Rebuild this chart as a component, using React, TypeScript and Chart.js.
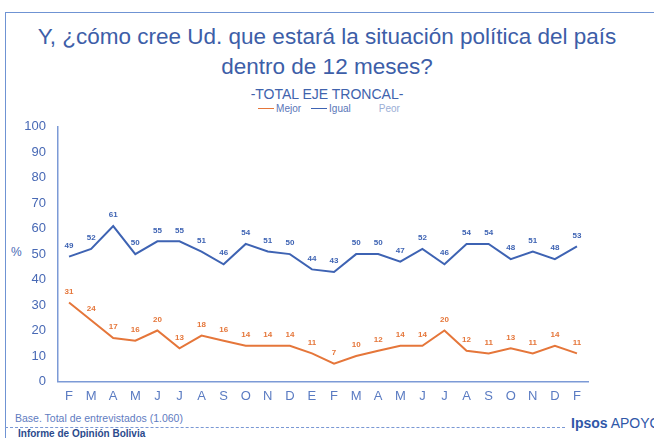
import React, { useEffect, useRef } from "react";
import { Chart, registerables } from "chart.js";

Chart.register(...registerables);

const months = ["F","M","A","M","J","J","A","S","O","N","D","E","F","M","A","M","J","J","A","S","O","N","D","F"];
const mejor = [31,24,17,16,20,13,18,16,14,14,14,11,7,10,12,14,14,20,12,11,13,11,14,11];
const igual = [49,52,61,50,55,55,51,46,54,51,50,44,43,50,50,47,52,46,54,54,48,51,48,53];
const peor: number[] = [];
const yTicks = [0,10,20,30,40,50,60,70,80,90,100];

const BLUE = "#3e63b3";
const ORANGE = "#e5763a";
const TEXTBLUE = "#4869b5";
const FONT = "'Liberation Sans', Arial, sans-serif";

const labelPlugin = {
  id: "valueLabels",
  afterDatasetsDraw(chart: any) {
    const ctx = chart.ctx;
    ctx.save();
    ctx.font = `bold 8px ${FONT}`;
    ctx.textAlign = "center";
    ctx.textBaseline = "middle";
    chart.data.datasets.forEach((ds: any, i: number) => {
      const meta = chart.getDatasetMeta(i);
      ctx.fillStyle = ds.labelColor;
      meta.data.forEach((pt: any, j: number) => {
        const v = ds.data[j];
        if (v == null) return;
        ctx.fillText(String(v), pt.x, pt.y - 11);
      });
    });
    ctx.restore();
  },
};

export default function App() {
  const ref = useRef<HTMLCanvasElement>(null);
  useEffect(() => {
    if (!ref.current) return;
    const chart = new Chart(ref.current, {
      type: "line",
      data: {
        labels: months,
        datasets: [
          { label: "Mejor", data: mejor, borderColor: ORANGE, borderWidth: 2, pointRadius: 0, tension: 0, labelColor: ORANGE } as any,
          { label: "Igual", data: igual, borderColor: BLUE, borderWidth: 2, pointRadius: 0, tension: 0, labelColor: BLUE } as any,
          { label: "Peor", data: peor, borderColor: "#dfe5ef", borderWidth: 2, pointRadius: 0, labelColor: "#c8d2e4" } as any,
        ],
      },
      options: {
        animation: false,
        responsive: false,
        maintainAspectRatio: false,
        layout: { padding: { left: 0, right: 12, top: 0, bottom: 0 } },
        plugins: { legend: { display: false }, tooltip: { enabled: false } },
        scales: {
          x: {
            offset: true,
            grid: { display: false, drawTicks: false },
            border: { display: true, color: "#7c9ad6", width: 1.5 },
            ticks: { color: "#5a7bc2", font: { family: FONT, size: 13 }, padding: 7, autoSkip: false, maxRotation: 0 },
          },
          y: {
            min: 0,
            max: 100,
            afterFit: (s: any) => { s.width = 58; },
            afterBuildTicks: (s: any) => { s.ticks = yTicks.map((v) => ({ value: v })); },
            grid: { display: false, drawTicks: false },
            border: { display: true, color: "#7c9ad6", width: 1.5 },
            ticks: { color: TEXTBLUE, font: { family: FONT, size: 13 }, padding: 12 },
          },
        },
      },
      plugins: [labelPlugin],
    });
    return () => chart.destroy();
  }, []);

  const legendItem = (color: string, text: string, textColor: string) => (
    <span style={{ display: "inline-flex", alignItems: "center", marginRight: 10 }}>
      <span style={{ display: "inline-block", width: 16, height: 1.5, background: color, marginRight: 2 }} />
      <span style={{ color: textColor }}>{text}</span>
    </span>
  );

  return (
    <div style={{ position: "fixed", left: 0, top: 0, width: 654, height: 438, background: "#fff", overflow: "hidden", fontFamily: FONT }}>
      <div style={{ position: "absolute", left: 5, top: 12, width: 660, height: 440, borderLeft: "1.5px solid #6f93d3", borderTop: "1.5px solid #6f93d3" }} />
      <div style={{ position: "absolute", left: 0, top: 22, width: 654, textAlign: "center", color: "#3d5ea8", fontSize: 22.5, lineHeight: "30px" }}>
        Y, ¿cómo cree Ud. que estará la situación política del país<br />dentro de 12 meses?
      </div>
      <div style={{ position: "absolute", left: 0, top: 86, width: 654, textAlign: "center", color: "#4063ad", fontSize: 14 }}>
        -TOTAL EJE TRONCAL-
      </div>
      <div style={{ position: "absolute", left: 0, top: 103, width: 654, textAlign: "center", fontSize: 10, display: "flex", justifyContent: "center" }}>
        <div style={{ marginLeft: 14, display: "flex" }}>
          {legendItem(ORANGE, "Mejor", "#5a76b8")}
          {legendItem(BLUE, "Igual", "#5a76b8")}
          {legendItem("transparent", "Peor", "#9aaed6")}
        </div>
      </div>
      <div style={{ position: "absolute", left: 11, top: 245, color: TEXTBLUE, fontSize: 12 }}>%</div>
      <canvas ref={ref} width={600} height={304} style={{ position: "absolute", left: 0, top: 107, width: 600, height: 304 }} />
      <div style={{ position: "absolute", left: 15, top: 412, color: "#5f7cbf", fontSize: 10.5 }}>Base. Total de entrevistados (1.060)</div>
      <div style={{ position: "absolute", left: 5, top: 427, width: 560, borderTop: "1px dashed #7a98d4" }} />
      <div style={{ position: "absolute", left: 571, top: 415, color: "#2f57a8", fontSize: 14, whiteSpace: "nowrap" }}>
        <b>Ipsos</b> APOYO
      </div>
      <div style={{ position: "absolute", left: 18, top: 428, color: "#2b4a8c", fontSize: 10, fontWeight: "bold" }}>Informe de Opinión Bolivia</div>
    </div>
  );
}
